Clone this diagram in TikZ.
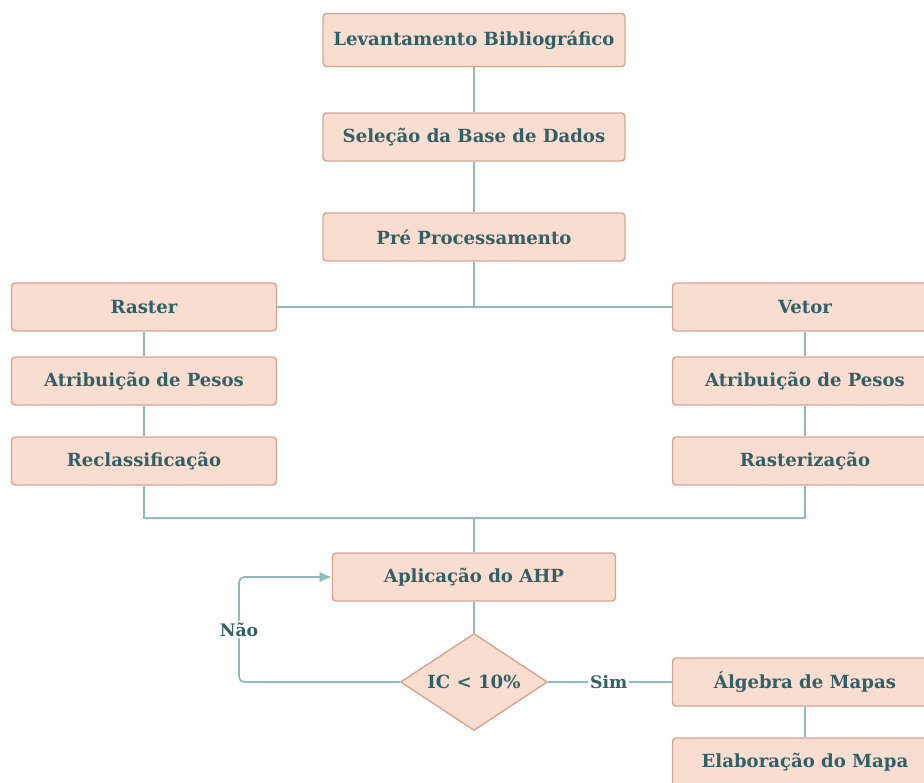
\documentclass[tikz,border=0pt]{standalone}
\usepackage{fontspec}
\setmainfont{DejaVu Serif}
\usetikzlibrary{shapes.geometric, arrows.meta, positioning}

\definecolor{caixa}{HTML}{F9DDD1}
\definecolor{borda}{HTML}{D9A48F}
\definecolor{texto}{HTML}{2F6166}
\definecolor{linha}{HTML}{8DBDBB}

\begin{document}
\begin{tikzpicture}[x=0.02cm, y=-0.02cm,
    etapa/.style={draw=borda, fill=caixa, rounded corners=2pt, line width=0.8pt,
      minimum width=6.04cm, minimum height=0.96cm, text=texto,
      font=\bfseries\fontsize{10.3}{12}\selectfont},
    lado/.style={etapa, minimum width=5.3cm},
    decisao/.style={diamond, draw=borda, fill=caixa, line width=0.8pt, aspect=1.5,
      minimum width=2.94cm, minimum height=1.94cm, inner sep=0pt, text=texto,
      font=\bfseries\fontsize{10.3}{12}\selectfont},
    rotulo/.style={fill=white, text=texto, inner sep=1pt,
      font=\bfseries\fontsize{9.8}{11}\selectfont},
    liga/.style={draw=linha, line width=1pt}]
  \clip (0,0) rectangle (924,782);
  \fill[white] (0,0) rectangle (924,782);

  % Etapas centrais
  \node[etapa, minimum height=1.06cm] (lev) at (474,40) {Levantamento Bibliográfico};
  \node[etapa] (sel) at (474,137) {Seleção da Base de Dados};
  \node[etapa] (pre) at (474,237) {Pré Processamento};

  % Raster
  \node[lado] (raster) at (144,307) {Raster};
  \node[lado] (atribR) at (144,381) {Atribuição de Pesos};
  \node[lado] (reclass) at (144,461) {Reclassificação};

  % Vetor
  \node[lado] (vetor) at (805,307) {Vetor};
  \node[lado] (atribV) at (805,381) {Atribuição de Pesos};
  \node[lado] (rasteriz) at (805,461) {Rasterização};

  % AHP
  \coordinate (juncao) at (474,518);
  \node[etapa, minimum width=5.66cm] (ahp) at (474,577) {Aplicação do AHP};
  \node[decisao] (ic) at (474,682) {IC < 10\%};
  \coordinate (volta) at (239,682);

  % Resultado
  \node[lado] (algebra) at (805,682) {Álgebra de Mapas};
  \node[lado] (mapa) at (805,762) {Elaboração do Mapa};

  % Ligacoes
  \draw[liga] (lev) -- (sel);
  \draw[liga] (sel) -- (pre);
  \draw[liga] (pre.south) -- (pre.south |- raster.east);
  \draw[liga] (raster) -- (vetor);
  \draw[liga] (raster) -- (atribR);
  \draw[liga] (atribR) -- (reclass);
  \draw[liga] (vetor) -- (atribV);
  \draw[liga] (atribV) -- (rasteriz);
  \draw[liga] (reclass.south) -- (reclass.south |- juncao) -- (rasteriz.south |- juncao)
    -- (rasteriz.south);
  \draw[liga] (juncao) -- (ahp);
  \draw[liga] (ahp) -- (ic);
  \draw[liga, rounded corners=3pt, -{Latex[length=7pt, width=6pt]}] (ic.west) -- (volta)
    -- (volta |- ahp.west) node[rotulo, pos=0.5] {Não} -- (ahp.west);
  \draw[liga] (ic.east) -- (algebra.west) node[rotulo, pos=0.49] {Sim};
  \draw[liga] (algebra) -- (mapa);
\end{tikzpicture}
\end{document}
